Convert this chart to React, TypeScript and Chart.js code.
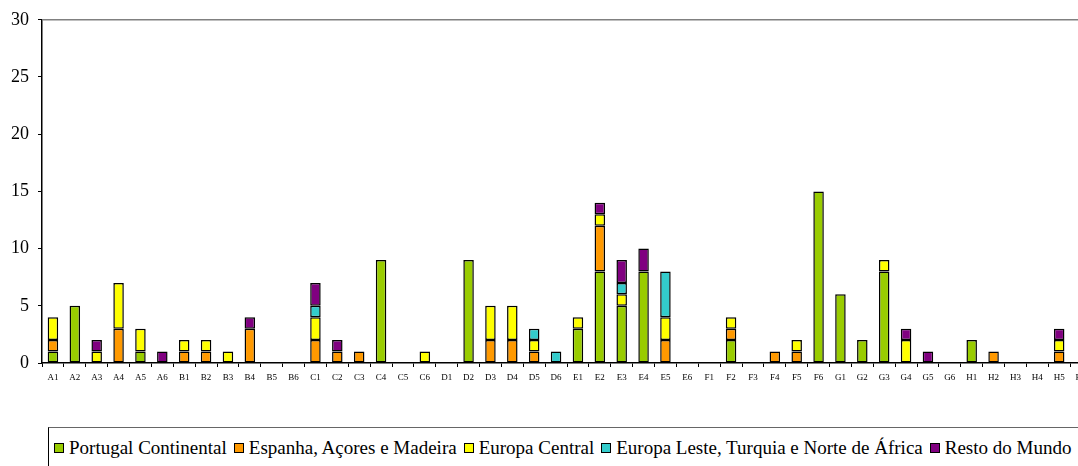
import React, { useEffect, useRef } from "react";
import { Chart, registerables } from "chart.js";

Chart.register(...registerables);

const categories = [
  "A1","A2","A3","A4","A5","A6",
  "B1","B2","B3","B4","B5","B6",
  "C1","C2","C3","C4","C5","C6",
  "D1","D2","D3","D4","D5","D6",
  "E1","E2","E3","E4","E5","E6",
  "F1","F2","F3","F4","F5","F6",
  "G1","G2","G3","G4","G5","G6",
  "H1","H2","H3","H4","H5","H6",
];

const portugalContinental = [
  1,5,0,0,1,0, 0,0,0,0,0,0, 0,0,0,9,0,0, 0,9,0,0,0,0,
  3,8,5,8,0,0, 0,2,0,0,0,15, 6,2,8,0,0,0, 2,0,0,0,0,0,
];
const espanhaAcoresMadeira = [
  1,0,0,3,0,0, 1,1,0,3,0,0, 2,1,1,0,0,0, 0,0,2,2,1,0,
  0,4,0,0,2,0, 0,1,0,1,1,0, 0,0,0,0,0,0, 0,1,0,0,1,0,
];
const europaCentral = [
  2,0,1,4,2,0, 1,1,1,0,0,0, 2,0,0,0,0,1, 0,0,3,3,1,0,
  1,1,1,0,2,0, 0,1,0,0,1,0, 0,0,1,2,0,0, 0,0,0,0,1,0,
];
const europaLeste = [
  0,0,0,0,0,0, 0,0,0,0,0,0, 1,0,0,0,0,0, 0,0,0,0,1,1,
  0,0,1,0,4,0, 0,0,0,0,0,0, 0,0,0,0,0,0, 0,0,0,0,0,0,
];
const restoDoMundo = [
  0,0,1,0,0,1, 0,0,0,1,0,0, 2,1,0,0,0,0, 0,0,0,0,0,0,
  0,1,2,2,0,0, 0,0,0,0,0,0, 0,0,0,1,1,0, 0,0,0,0,1,0,
];

const seriesNames = [
  "Portugal Continental",
  "Espanha, Açores e Madeira",
  "Europa Central",
  "Europa Leste, Turquia e Norte de África",
  "Resto do Mundo",
];
const seriesColors = ["#99CC00", "#FF9900", "#FFFF00", "#33CCCC", "#800080"];
const seriesData = [
  portugalContinental,
  espanhaAcoresMadeira,
  europaCentral,
  europaLeste,
  restoDoMundo,
];

const yTicks = [0, 5, 10, 15, 20, 25, 30];

const FONT = "'Liberation Serif', 'Times New Roman', serif";

const plotBorder = {
  id: "plotBorder",
  beforeDatasetsDraw(chart: any) {
    const { ctx, chartArea } = chart;
    ctx.save();
    ctx.strokeStyle = "#808080";
    ctx.lineWidth = 1.5;
    ctx.beginPath();
    ctx.moveTo(chartArea.left, chartArea.top);
    ctx.lineTo(chartArea.right, chartArea.top);
    ctx.lineTo(chartArea.right, chartArea.bottom);
    ctx.stroke();
    ctx.restore();
  },
};

export default function App() {
  const canvasRef = useRef<HTMLCanvasElement | null>(null);

  useEffect(() => {
    const canvas = canvasRef.current;
    if (!canvas) return;
    const chart = new Chart(canvas, {
      type: "bar",
      data: {
        labels: categories,
        datasets: seriesNames.map((name, i) => ({
          label: name,
          data: seriesData[i],
          backgroundColor: seriesColors[i],
          borderColor: "#000000",
          borderWidth: 1.5,
          borderSkipped: false,
          inflateAmount: 0,
          barPercentage: 0.48,
          categoryPercentage: 1,
        })),
      },
      options: {
        responsive: false,
        animation: false,
        devicePixelRatio: 1,
        layout: { padding: { left: 0, right: 8, top: 19, bottom: 0 } },
        plugins: {
          legend: { display: false },
          tooltip: { enabled: false },
        },
        scales: {
          x: {
            stacked: true,
            offset: true,
            grid: {
              display: true,
              offset: true,
              drawOnChartArea: false,
              drawTicks: true,
              tickLength: 4,
              color: "#000000",
              lineWidth: 1,
            },
            border: { display: true, color: "#000000", width: 1.5 },
            ticks: {
              autoSkip: false,
              maxRotation: 0,
              minRotation: 0,
              padding: 5,
              color: "#000000",
              font: { family: FONT, size: 9 },
            },
            afterFit: (s: any) => {
              s.height = 30;
            },
          },
          y: {
            stacked: true,
            min: 0,
            max: 30,
            grid: {
              display: true,
              drawOnChartArea: false,
              drawTicks: true,
              tickLength: 4,
              color: "#000000",
              lineWidth: 1,
            },
            border: { display: true, color: "#000000", width: 1.5 },
            afterBuildTicks: (s: any) => {
              s.ticks = yTicks.map((v) => ({ value: v }));
            },
            ticks: {
              padding: 9,
              color: "#000000",
              font: { family: FONT, size: 18 },
            },
            afterFit: (s: any) => {
              s.width = 42;
            },
          },
        },
      },
      plugins: [plotBorder],
    });
    return () => chart.destroy();
  }, []);

  return (
    <div
      style={{
        position: "fixed",
        left: 0,
        top: 0,
        width: 1078,
        height: 466,
        overflow: "hidden",
        background: "#ffffff",
      }}
    >
      <canvas
        ref={canvasRef}
        width={1100}
        height={393}
        style={{ position: "absolute", left: 0, top: 0, width: 1100, height: 393 }}
      />
      <div
        style={{
          position: "absolute",
          left: 48,
          top: 427,
          width: 1100,
          height: 60,
          borderTop: "1.5px solid #666",
          borderLeft: "1px solid #000",
          boxSizing: "border-box",
          display: "flex",
          alignItems: "flex-start",
          paddingTop: 9,
          paddingLeft: 5,
          fontFamily: FONT,
          fontSize: 19,
          lineHeight: "22px",
          color: "#000",
          whiteSpace: "nowrap",
        }}
      >
        {seriesNames.map((name, i) => (
          <span
            key={name}
            style={{ display: "inline-flex", alignItems: "center", marginRight: 7 }}
          >
            <span
              style={{
                display: "inline-block",
                width: 8,
                height: 8,
                background: seriesColors[i],
                border: "1px solid #000",
                marginRight: 5,
              }}
            />
            <span>{name}</span>
          </span>
        ))}
      </div>
    </div>
  );
}
